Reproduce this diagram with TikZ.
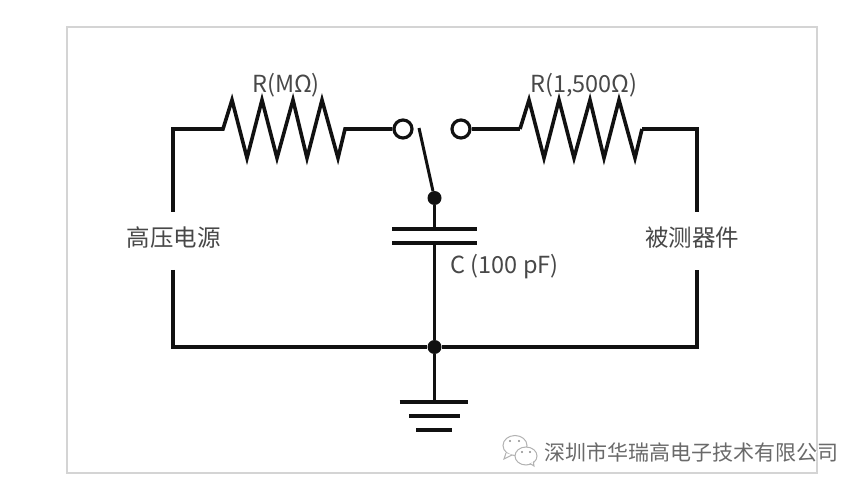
\documentclass[tikz,border=0pt]{standalone}
\usepackage{fontspec}
\setmainfont{Noto Sans CJK SC}
\newfontfamily\cjk{Noto Sans CJK SC}
\definecolor{ink}{HTML}{111111}
\definecolor{labelink}{HTML}{484848}
\definecolor{framegray}{HTML}{D4D4D4}
\definecolor{wm}{HTML}{6A6A6A}
\tikzset{
  wire/.style={draw=ink,line width=3.4pt,line join=miter},
  res/.style={draw=ink,line width=3.6pt,line join=miter,miter limit=10},
  terminal/.style={circle,draw=ink,line width=3.2pt,fill=white,minimum size=18pt,inner sep=0pt},
  junction/.style={circle,fill=ink,minimum size=14pt,inner sep=0pt},
  lbl/.style={text=labelink,font=\fontsize{23.5}{25}\selectfont,inner sep=0pt},
  cjklbl/.style={text=labelink,font=\cjk\fontsize{23.5}{25}\selectfont,inner sep=0pt},
  wmark/.style={text=wm,font=\cjk\fontsize{21}{23}\selectfont,inner sep=0pt},
  bubble/.style={draw=black!30,line width=1pt,fill=white},
}
\begin{document}
\begin{tikzpicture}[x=1pt,y=-1pt]
\useasboundingbox (0,0) rectangle (865,489);
\fill[white] (0,0) rectangle (865,489);
\draw[framegray,line width=1.6pt,fill=white] (67,27) rectangle (817,473);

% named points
\coordinate (rlA) at (204,129);
\coordinate (rrB) at (642,129);
\coordinate (tl) at (173,129);
\coordinate (tr) at (697,129);
\coordinate (bl) at (173,347);
\coordinate (br) at (697,347);
\coordinate (srcTop) at (173,212);
\coordinate (srcBot) at (173,270);
\coordinate (dutTop) at (697,212);
\coordinate (dutBot) at (697,270);
\coordinate (plateA) at (434.5,229);
\coordinate (plateB) at (434.5,243);
\coordinate (gnd) at (434.5,402);
\coordinate (swTip) at (419,128);

\node[terminal] (t1) at (403,129) {};
\node[terminal] (t2) at (461,129) {};
\node[junction] (j1) at (434.5,198) {};
\node[junction] (j2) at (434.5,347) {};

\node[cjklbl] (src) at (173.5,238) {高压电源};
\node[cjklbl] (dut) at (692,238) {被测器件};
\node[lbl] (r1) at (286,85) {R(MΩ)};
\node[lbl] (r2) at (584,85) {R(1,500Ω)};
\node[lbl] (c1) at (504.5,267) {C (100 pF)};

% left side and resistor
\draw[wire] (srcTop) -- (tl) -- (rlA);
\draw[res] (rlA) -- (223,129) -- (232,100) -- (247,158) -- (262,100) -- (277,158) -- (293,100) -- (307,158) -- (322,100) -- (338,158) -- (345,129) -- (t1.west);
% right side and resistor
\draw[wire] (t2.east) -- (520,129);
\draw[res] (520,129) -- (529,100) -- (544,158) -- (559,100) -- (574,158) -- (590,100) -- (604,158) -- (619,100) -- (635,158) -- (642,129);
\draw[wire] (rrB) -- (tr) -- (dutTop);
% bottom
\draw[wire] (srcBot) -- (bl) -- (j2) -- (br) -- (dutBot);
% switch
\draw[ink,line width=3pt] (swTip) -- (j1);
% capacitor
\draw[wire] (j1) -- (plateA);
\draw[ink,line width=4pt] (392,229) -- (477,229);
\draw[ink,line width=4pt] (392,243) -- (477,243);
\draw[wire] (plateB) -- (j2);
% ground
\draw[wire] (j2) -- (gnd);
\draw[ink,line width=3.2pt] (399.5,402) -- (468,402);
\draw[ink,line width=3.6pt] (409,416) -- (460,416);
\draw[ink,line width=3.6pt] (416,430) -- (452,430);

% watermark
\draw[bubble] (515,445.5) ellipse (12 and 10);
\draw[bubble] (506,453) -- (504,459) -- (512,455);
\draw[bubble] (526,456) ellipse (11 and 9);
\fill[white,draw=black!30,line width=1pt] (530,463.5) -- (534,466) -- (533,460) -- cycle;
\fill[white] (526,456) ellipse (10 and 8);
\fill[black!45] (510,441) circle (1.2) (519,441) circle (1.2) (522,452) circle (1.2) (530,452) circle (1.2);
\node[wmark,text=white] at (692.5,453) {深圳市华瑞高电子技术有限公司};
\node[wmark] (wmtext) at (691.5,452) {深圳市华瑞高电子技术有限公司};
\end{tikzpicture}
\end{document}
